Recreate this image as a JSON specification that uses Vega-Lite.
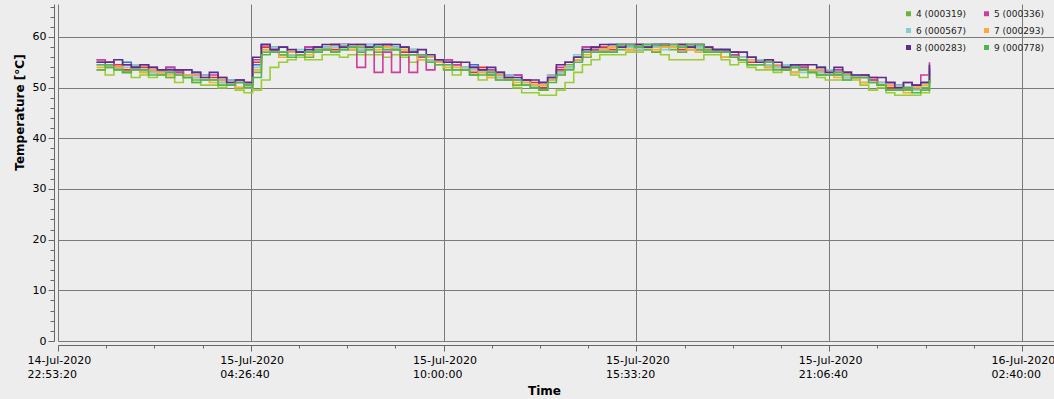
{
  "$schema": "https://vega.github.io/schema/vega-lite/v6.json",
  "autosize": {"type": "none"},
  "padding": {"left": 58, "top": 4, "right": 0, "bottom": 58},
  "width": 996,
  "height": 337,
  "background": "#ededed",
  "config": {"font": "DejaVu Sans", "view": {"stroke": null}},
  "data": {"values": [
    {"t": "2020-07-15T00:00:00Z", "s1": 55.0, "s2": 55.5, "s3": 53.5, "s4": 53.5, "s5": 55.5, "s6": 54.5, "s7": 54.0, "s8": 55.0, "s9": 54.5},
    {"t": "2020-07-15T00:15:00Z", "s1": 55.0, "s2": 54.5, "s3": 52.5, "s4": 54.5, "s5": 55.0, "s6": 54.0, "s7": 54.0, "s8": 55.0, "s9": 54.0},
    {"t": "2020-07-15T00:30:00Z", "s1": 54.5, "s2": 54.0, "s3": 53.5, "s4": 54.0, "s5": 54.0, "s6": 54.0, "s7": 54.0, "s8": 55.5, "s9": 53.5},
    {"t": "2020-07-15T00:45:00Z", "s1": 53.5, "s2": 55.0, "s3": 53.0, "s4": 53.0, "s5": 54.5, "s6": 54.0, "s7": 54.5, "s8": 54.5, "s9": 53.0},
    {"t": "2020-07-15T01:00:00Z", "s1": 54.5, "s2": 54.0, "s3": 52.0, "s4": 53.5, "s5": 54.0, "s6": 54.5, "s7": 53.5, "s8": 54.0, "s9": 53.5},
    {"t": "2020-07-15T01:15:00Z", "s1": 54.0, "s2": 53.5, "s3": 52.5, "s4": 53.0, "s5": 54.5, "s6": 53.5, "s7": 53.0, "s8": 54.5, "s9": 53.5},
    {"t": "2020-07-15T01:30:00Z", "s1": 53.0, "s2": 53.5, "s3": 52.0, "s4": 53.5, "s5": 54.0, "s6": 53.0, "s7": 53.5, "s8": 54.0, "s9": 52.5},
    {"t": "2020-07-15T01:45:00Z", "s1": 53.5, "s2": 53.5, "s3": 52.5, "s4": 53.0, "s5": 53.0, "s6": 53.5, "s7": 53.0, "s8": 53.5, "s9": 52.5},
    {"t": "2020-07-15T02:00:00Z", "s1": 53.0, "s2": 54.0, "s3": 52.0, "s4": 52.0, "s5": 54.0, "s6": 53.0, "s7": 52.5, "s8": 53.5, "s9": 53.0},
    {"t": "2020-07-15T02:15:00Z", "s1": 53.5, "s2": 53.0, "s3": 51.0, "s4": 53.0, "s5": 53.0, "s6": 52.5, "s7": 52.5, "s8": 53.5, "s9": 52.5},
    {"t": "2020-07-15T02:30:00Z", "s1": 52.5, "s2": 52.5, "s3": 52.0, "s4": 52.0, "s5": 52.5, "s6": 52.5, "s7": 52.5, "s8": 53.5, "s9": 52.0},
    {"t": "2020-07-15T02:45:00Z", "s1": 52.0, "s2": 53.0, "s3": 51.0, "s4": 51.5, "s5": 52.5, "s6": 52.0, "s7": 52.5, "s8": 53.0, "s9": 51.0},
    {"t": "2020-07-15T03:00:00Z", "s1": 52.5, "s2": 52.5, "s3": 50.5, "s4": 51.5, "s5": 52.5, "s6": 52.5, "s7": 52.0, "s8": 52.0, "s9": 51.5},
    {"t": "2020-07-15T03:15:00Z", "s1": 52.0, "s2": 51.5, "s3": 50.5, "s4": 51.5, "s5": 52.5, "s6": 51.5, "s7": 51.0, "s8": 53.0, "s9": 51.5},
    {"t": "2020-07-15T03:30:00Z", "s1": 51.0, "s2": 51.5, "s3": 50.0, "s4": 51.5, "s5": 52.0, "s6": 51.0, "s7": 51.5, "s8": 52.0, "s9": 50.5},
    {"t": "2020-07-15T03:45:00Z", "s1": 51.5, "s2": 51.5, "s3": 50.5, "s4": 50.5, "s5": 51.0, "s6": 51.5, "s7": 51.0, "s8": 51.0, "s9": 50.5},
    {"t": "2020-07-15T04:00:00Z", "s1": 51.0, "s2": 51.5, "s3": 49.5, "s4": 50.0, "s5": 51.5, "s6": 51.0, "s7": 50.0, "s8": 51.5, "s9": 51.0},
    {"t": "2020-07-15T04:15:00Z", "s1": 51.0, "s2": 50.5, "s3": 49.0, "s4": 50.5, "s5": 51.0, "s6": 50.0, "s7": 50.0, "s8": 51.0, "s9": 50.0},
    {"t": "2020-07-15T04:30:00Z", "s1": 55.0, "s2": 54.5, "s3": 49.5, "s4": 53.0, "s5": 55.5, "s6": 54.0, "s7": 53.5, "s8": 56.0, "s9": 52.0},
    {"t": "2020-07-15T04:45:00Z", "s1": 58.0, "s2": 58.5, "s3": 51.5, "s4": 57.0, "s5": 58.5, "s6": 57.5, "s7": 57.5, "s8": 58.5, "s9": 56.5},
    {"t": "2020-07-15T05:00:00Z", "s1": 58.0, "s2": 57.5, "s3": 54.0, "s4": 57.0, "s5": 57.5, "s6": 58.0, "s7": 57.0, "s8": 57.5, "s9": 57.0},
    {"t": "2020-07-15T05:15:00Z", "s1": 57.0, "s2": 56.5, "s3": 55.0, "s4": 56.5, "s5": 58.0, "s6": 57.0, "s7": 56.0, "s8": 58.0, "s9": 57.0},
    {"t": "2020-07-15T05:30:00Z", "s1": 56.5, "s2": 57.0, "s3": 55.5, "s4": 57.0, "s5": 57.0, "s6": 56.5, "s7": 57.0, "s8": 57.5, "s9": 56.0},
    {"t": "2020-07-15T05:45:00Z", "s1": 57.0, "s2": 57.0, "s3": 56.0, "s4": 56.5, "s5": 56.5, "s6": 57.5, "s7": 56.5, "s8": 57.0, "s9": 56.5},
    {"t": "2020-07-15T06:00:00Z", "s1": 57.0, "s2": 58.0, "s3": 55.5, "s4": 56.0, "s5": 58.0, "s6": 57.0, "s7": 56.5, "s8": 57.5, "s9": 57.0},
    {"t": "2020-07-15T06:15:00Z", "s1": 58.0, "s2": 57.5, "s3": 55.5, "s4": 57.5, "s5": 58.0, "s6": 57.0, "s7": 57.0, "s8": 58.0, "s9": 57.0},
    {"t": "2020-07-15T06:30:00Z", "s1": 58.0, "s2": 57.5, "s3": 56.5, "s4": 57.5, "s5": 57.5, "s6": 58.0, "s7": 57.5, "s8": 58.5, "s9": 57.5},
    {"t": "2020-07-15T06:45:00Z", "s1": 57.5, "s2": 58.5, "s3": 56.5, "s4": 57.0, "s5": 58.5, "s6": 58.0, "s7": 58.5, "s8": 58.5, "s9": 57.0},
    {"t": "2020-07-15T07:00:00Z", "s1": 58.5, "s2": 58.5, "s3": 56.0, "s4": 57.5, "s5": 58.5, "s6": 58.5, "s7": 58.0, "s8": 58.0, "s9": 57.5},
    {"t": "2020-07-15T07:15:00Z", "s1": 58.0, "s2": 58.0, "s3": 56.5, "s4": 57.5, "s5": 58.5, "s6": 58.0, "s7": 57.5, "s8": 58.5, "s9": 58.0},
    {"t": "2020-07-15T07:30:00Z", "s1": 57.5, "s2": 58.5, "s3": 56.5, "s4": 58.0, "s5": 54.0, "s6": 57.5, "s7": 58.5, "s8": 58.5, "s9": 57.0},
    {"t": "2020-07-15T07:45:00Z", "s1": 58.0, "s2": 58.5, "s3": 56.5, "s4": 57.5, "s5": 58.0, "s6": 58.5, "s7": 58.0, "s8": 58.0, "s9": 57.5},
    {"t": "2020-07-15T08:00:00Z", "s1": 58.0, "s2": 58.5, "s3": 56.5, "s4": 57.0, "s5": 53.0, "s6": 58.0, "s7": 57.5, "s8": 58.5, "s9": 58.0},
    {"t": "2020-07-15T08:15:00Z", "s1": 58.5, "s2": 58.5, "s3": 56.0, "s4": 58.0, "s5": 57.0, "s6": 57.5, "s7": 58.0, "s8": 58.5, "s9": 57.5},
    {"t": "2020-07-15T08:30:00Z", "s1": 58.0, "s2": 57.5, "s3": 56.5, "s4": 57.5, "s5": 53.0, "s6": 58.0, "s7": 57.5, "s8": 58.5, "s9": 57.5},
    {"t": "2020-07-15T08:45:00Z", "s1": 57.0, "s2": 58.0, "s3": 56.0, "s4": 56.5, "s5": 56.5, "s6": 57.5, "s7": 57.5, "s8": 58.0, "s9": 56.5},
    {"t": "2020-07-15T09:00:00Z", "s1": 57.5, "s2": 57.0, "s3": 55.0, "s4": 56.5, "s5": 53.0, "s6": 57.5, "s7": 56.5, "s8": 57.0, "s9": 56.5},
    {"t": "2020-07-15T09:15:00Z", "s1": 56.5, "s2": 56.0, "s3": 55.5, "s4": 56.0, "s5": 56.0, "s6": 56.5, "s7": 55.5, "s8": 57.5, "s9": 56.5},
    {"t": "2020-07-15T09:30:00Z", "s1": 55.5, "s2": 56.0, "s3": 55.0, "s4": 56.0, "s5": 53.5, "s6": 55.5, "s7": 56.0, "s8": 56.5, "s9": 55.0},
    {"t": "2020-07-15T09:45:00Z", "s1": 55.5, "s2": 55.5, "s3": 54.5, "s4": 55.0, "s5": 55.0, "s6": 55.5, "s7": 55.0, "s8": 55.5, "s9": 54.5},
    {"t": "2020-07-15T10:00:00Z", "s1": 55.0, "s2": 55.5, "s3": 53.5, "s4": 53.5, "s5": 55.5, "s6": 54.5, "s7": 54.0, "s8": 55.0, "s9": 54.5},
    {"t": "2020-07-15T10:15:00Z", "s1": 55.0, "s2": 54.5, "s3": 52.5, "s4": 54.5, "s5": 54.5, "s6": 53.5, "s7": 54.0, "s8": 55.0, "s9": 53.5},
    {"t": "2020-07-15T10:30:00Z", "s1": 54.0, "s2": 53.5, "s3": 53.5, "s4": 53.5, "s5": 53.5, "s6": 54.0, "s7": 53.5, "s8": 55.0, "s9": 53.5},
    {"t": "2020-07-15T10:45:00Z", "s1": 53.0, "s2": 54.5, "s3": 52.5, "s4": 52.5, "s5": 54.0, "s6": 53.5, "s7": 54.0, "s8": 54.0, "s9": 52.5},
    {"t": "2020-07-15T11:00:00Z", "s1": 54.0, "s2": 53.5, "s3": 51.5, "s4": 53.0, "s5": 53.5, "s6": 53.5, "s7": 53.0, "s8": 53.5, "s9": 52.5},
    {"t": "2020-07-15T11:15:00Z", "s1": 53.0, "s2": 52.5, "s3": 52.0, "s4": 52.5, "s5": 53.5, "s6": 53.0, "s7": 52.0, "s8": 54.0, "s9": 53.0},
    {"t": "2020-07-15T11:30:00Z", "s1": 52.0, "s2": 52.5, "s3": 51.5, "s4": 52.5, "s5": 53.0, "s6": 52.0, "s7": 52.5, "s8": 53.0, "s9": 51.5},
    {"t": "2020-07-15T11:45:00Z", "s1": 52.0, "s2": 52.5, "s3": 51.5, "s4": 51.5, "s5": 52.0, "s6": 52.5, "s7": 52.0, "s8": 52.0, "s9": 51.5},
    {"t": "2020-07-15T12:00:00Z", "s1": 51.5, "s2": 52.5, "s3": 50.0, "s4": 50.5, "s5": 52.5, "s6": 51.5, "s7": 51.0, "s8": 52.0, "s9": 51.5},
    {"t": "2020-07-15T12:15:00Z", "s1": 51.5, "s2": 51.5, "s3": 49.0, "s4": 51.0, "s5": 51.5, "s6": 50.5, "s7": 51.0, "s8": 51.5, "s9": 50.5},
    {"t": "2020-07-15T12:30:00Z", "s1": 51.0, "s2": 50.5, "s3": 49.0, "s4": 50.0, "s5": 50.5, "s6": 50.5, "s7": 50.5, "s8": 51.5, "s9": 50.0},
    {"t": "2020-07-15T12:45:00Z", "s1": 50.0, "s2": 51.0, "s3": 48.5, "s4": 49.5, "s5": 51.0, "s6": 50.5, "s7": 50.5, "s8": 51.0, "s9": 49.5},
    {"t": "2020-07-15T13:00:00Z", "s1": 52.5, "s2": 52.0, "s3": 48.5, "s4": 51.5, "s5": 52.0, "s6": 52.5, "s7": 51.5, "s8": 52.0, "s9": 51.0},
    {"t": "2020-07-15T13:15:00Z", "s1": 53.5, "s2": 53.0, "s3": 49.5, "s4": 53.0, "s5": 54.0, "s6": 53.0, "s7": 52.5, "s8": 54.5, "s9": 52.5},
    {"t": "2020-07-15T13:30:00Z", "s1": 54.0, "s2": 55.0, "s3": 51.0, "s4": 54.5, "s5": 55.0, "s6": 54.0, "s7": 55.0, "s8": 55.0, "s9": 53.5},
    {"t": "2020-07-15T13:45:00Z", "s1": 56.0, "s2": 56.0, "s3": 53.0, "s4": 55.5, "s5": 55.5, "s6": 56.5, "s7": 55.5, "s8": 56.0, "s9": 55.0},
    {"t": "2020-07-15T14:00:00Z", "s1": 57.0, "s2": 58.0, "s3": 54.5, "s4": 56.0, "s5": 58.0, "s6": 57.0, "s7": 56.5, "s8": 57.5, "s9": 57.0},
    {"t": "2020-07-15T14:15:00Z", "s1": 58.0, "s2": 57.5, "s3": 55.5, "s4": 57.5, "s5": 57.5, "s6": 57.0, "s7": 57.0, "s8": 58.0, "s9": 57.0},
    {"t": "2020-07-15T14:30:00Z", "s1": 58.0, "s2": 57.5, "s3": 56.5, "s4": 57.0, "s5": 57.5, "s6": 57.5, "s7": 57.5, "s8": 58.5, "s9": 57.0},
    {"t": "2020-07-15T14:45:00Z", "s1": 57.5, "s2": 58.5, "s3": 56.5, "s4": 57.0, "s5": 58.0, "s6": 58.0, "s7": 58.0, "s8": 58.5, "s9": 57.0},
    {"t": "2020-07-15T15:00:00Z", "s1": 58.5, "s2": 58.5, "s3": 56.5, "s4": 57.5, "s5": 58.5, "s6": 58.5, "s7": 58.0, "s8": 58.0, "s9": 58.5},
    {"t": "2020-07-15T15:15:00Z", "s1": 58.0, "s2": 58.0, "s3": 57.0, "s4": 57.5, "s5": 58.5, "s6": 58.0, "s7": 57.5, "s8": 58.5, "s9": 58.5},
    {"t": "2020-07-15T15:30:00Z", "s1": 57.5, "s2": 58.5, "s3": 57.0, "s4": 58.0, "s5": 58.5, "s6": 57.5, "s7": 58.5, "s8": 58.5, "s9": 58.0},
    {"t": "2020-07-15T15:45:00Z", "s1": 58.0, "s2": 58.5, "s3": 57.5, "s4": 57.5, "s5": 58.0, "s6": 58.5, "s7": 58.0, "s8": 58.0, "s9": 58.5},
    {"t": "2020-07-15T16:00:00Z", "s1": 58.0, "s2": 58.5, "s3": 57.0, "s4": 57.0, "s5": 58.5, "s6": 58.0, "s7": 57.5, "s8": 58.5, "s9": 58.5},
    {"t": "2020-07-15T16:15:00Z", "s1": 58.5, "s2": 58.5, "s3": 56.5, "s4": 58.0, "s5": 58.5, "s6": 57.5, "s7": 58.0, "s8": 58.5, "s9": 58.5},
    {"t": "2020-07-15T16:30:00Z", "s1": 58.0, "s2": 58.0, "s3": 55.5, "s4": 57.5, "s5": 58.0, "s6": 58.0, "s7": 58.0, "s8": 58.5, "s9": 58.5},
    {"t": "2020-07-15T16:45:00Z", "s1": 57.5, "s2": 58.5, "s3": 55.5, "s4": 57.0, "s5": 58.5, "s6": 58.0, "s7": 58.5, "s8": 58.5, "s9": 58.0},
    {"t": "2020-07-15T17:00:00Z", "s1": 58.5, "s2": 58.0, "s3": 55.5, "s4": 57.5, "s5": 58.5, "s6": 58.5, "s7": 57.5, "s8": 58.0, "s9": 58.5},
    {"t": "2020-07-15T17:15:00Z", "s1": 58.0, "s2": 57.5, "s3": 55.5, "s4": 57.5, "s5": 58.5, "s6": 58.0, "s7": 57.0, "s8": 58.5, "s9": 58.5},
    {"t": "2020-07-15T17:30:00Z", "s1": 57.5, "s2": 58.0, "s3": 56.5, "s4": 57.5, "s5": 58.0, "s6": 57.0, "s7": 58.0, "s8": 58.0, "s9": 57.0},
    {"t": "2020-07-15T17:45:00Z", "s1": 57.5, "s2": 57.5, "s3": 56.5, "s4": 57.0, "s5": 57.0, "s6": 57.5, "s7": 57.0, "s8": 57.5, "s9": 57.0},
    {"t": "2020-07-15T18:00:00Z", "s1": 57.0, "s2": 57.5, "s3": 55.5, "s4": 56.0, "s5": 57.5, "s6": 57.0, "s7": 56.0, "s8": 57.5, "s9": 57.0},
    {"t": "2020-07-15T18:15:00Z", "s1": 57.0, "s2": 56.5, "s3": 54.5, "s4": 56.5, "s5": 56.5, "s6": 56.0, "s7": 56.0, "s8": 57.0, "s9": 56.0},
    {"t": "2020-07-15T18:30:00Z", "s1": 56.0, "s2": 55.5, "s3": 55.0, "s4": 55.5, "s5": 55.5, "s6": 56.0, "s7": 55.5, "s8": 57.0, "s9": 55.5},
    {"t": "2020-07-15T18:45:00Z", "s1": 55.0, "s2": 56.0, "s3": 54.0, "s4": 54.5, "s5": 56.0, "s6": 55.5, "s7": 55.5, "s8": 56.0, "s9": 54.5},
    {"t": "2020-07-15T19:00:00Z", "s1": 55.5, "s2": 55.5, "s3": 53.5, "s4": 54.5, "s5": 55.5, "s6": 55.5, "s7": 55.0, "s8": 55.0, "s9": 54.5},
    {"t": "2020-07-15T19:15:00Z", "s1": 55.0, "s2": 54.5, "s3": 53.5, "s4": 54.0, "s5": 55.5, "s6": 54.5, "s7": 54.0, "s8": 55.5, "s9": 55.0},
    {"t": "2020-07-15T19:30:00Z", "s1": 54.0, "s2": 54.5, "s3": 53.0, "s4": 54.5, "s5": 54.5, "s6": 54.0, "s7": 54.5, "s8": 55.0, "s9": 53.5},
    {"t": "2020-07-15T19:45:00Z", "s1": 54.0, "s2": 54.5, "s3": 53.5, "s4": 53.5, "s5": 54.0, "s6": 54.5, "s7": 54.0, "s8": 54.0, "s9": 53.5},
    {"t": "2020-07-15T20:00:00Z", "s1": 54.0, "s2": 54.5, "s3": 52.5, "s4": 53.0, "s5": 54.5, "s6": 54.0, "s7": 53.0, "s8": 54.5, "s9": 54.0},
    {"t": "2020-07-15T20:15:00Z", "s1": 54.5, "s2": 54.0, "s3": 52.0, "s4": 54.0, "s5": 54.0, "s6": 53.0, "s7": 53.5, "s8": 54.5, "s9": 53.5},
    {"t": "2020-07-15T20:30:00Z", "s1": 53.5, "s2": 53.5, "s3": 53.0, "s4": 53.0, "s5": 53.5, "s6": 53.5, "s7": 53.5, "s8": 54.5, "s9": 53.0},
    {"t": "2020-07-15T20:45:00Z", "s1": 53.0, "s2": 54.0, "s3": 52.0, "s4": 52.5, "s5": 53.5, "s6": 53.0, "s7": 53.5, "s8": 54.0, "s9": 52.5},
    {"t": "2020-07-15T21:00:00Z", "s1": 53.5, "s2": 53.5, "s3": 51.5, "s4": 52.5, "s5": 53.5, "s6": 53.5, "s7": 53.0, "s8": 53.0, "s9": 52.5},
    {"t": "2020-07-15T21:15:00Z", "s1": 53.0, "s2": 52.5, "s3": 51.5, "s4": 52.5, "s5": 53.5, "s6": 53.0, "s7": 52.0, "s8": 54.0, "s9": 53.0},
    {"t": "2020-07-15T21:30:00Z", "s1": 52.0, "s2": 53.0, "s3": 51.5, "s4": 52.5, "s5": 53.0, "s6": 52.0, "s7": 53.0, "s8": 53.0, "s9": 51.5},
    {"t": "2020-07-15T21:45:00Z", "s1": 52.5, "s2": 52.5, "s3": 51.5, "s4": 52.0, "s5": 52.0, "s6": 52.5, "s7": 52.0, "s8": 52.5, "s9": 52.0},
    {"t": "2020-07-15T22:00:00Z", "s1": 52.0, "s2": 52.5, "s3": 50.5, "s4": 51.0, "s5": 52.5, "s6": 52.0, "s7": 51.0, "s8": 52.5, "s9": 52.0},
    {"t": "2020-07-15T22:15:00Z", "s1": 52.0, "s2": 51.5, "s3": 49.5, "s4": 51.5, "s5": 51.5, "s6": 51.0, "s7": 51.0, "s8": 52.0, "s9": 51.0},
    {"t": "2020-07-15T22:30:00Z", "s1": 51.0, "s2": 50.5, "s3": 50.0, "s4": 50.5, "s5": 50.5, "s6": 51.0, "s7": 50.5, "s8": 52.0, "s9": 50.5},
    {"t": "2020-07-15T22:45:00Z", "s1": 50.0, "s2": 51.0, "s3": 49.0, "s4": 49.5, "s5": 51.0, "s6": 50.5, "s7": 50.5, "s8": 51.0, "s9": 49.5},
    {"t": "2020-07-15T23:00:00Z", "s1": 50.5, "s2": 50.5, "s3": 48.5, "s4": 49.5, "s5": 50.5, "s6": 50.5, "s7": 50.0, "s8": 50.0, "s9": 49.5},
    {"t": "2020-07-15T23:15:00Z", "s1": 50.0, "s2": 49.5, "s3": 48.5, "s4": 49.5, "s5": 51.0, "s6": 50.0, "s7": 49.0, "s8": 51.0, "s9": 50.0},
    {"t": "2020-07-15T23:30:00Z", "s1": 49.5, "s2": 50.0, "s3": 48.5, "s4": 50.0, "s5": 50.5, "s6": 49.5, "s7": 50.0, "s8": 50.5, "s9": 49.0},
    {"t": "2020-07-15T23:45:00Z", "s1": 51.0, "s2": 51.0, "s3": 49.0, "s4": 50.0, "s5": 52.5, "s6": 51.0, "s7": 50.5, "s8": 51.0, "s9": 49.5},
    {"t": "2020-07-16T00:00:00Z", "s1": 54.0, "s2": 53.5, "s3": 50.0, "s4": 53.0, "s5": 55.0, "s6": 54.0, "s7": 52.5, "s8": 54.5, "s9": 51.5}
  ]},
  "transform": [
    {"fold": ["s1", "s2", "s3", "s4", "s5", "s6", "s7", "s8", "s9"], "as": ["key", "temp"]},
    {"lookup": "key", "from": {"data": {"values": [
      {"key": "s1", "sensor": "1"}, {"key": "s2", "sensor": "2"}, {"key": "s3", "sensor": "3"},
      {"key": "s4", "sensor": "4 (000319)"}, {"key": "s5", "sensor": "5 (000336)"}, {"key": "s6", "sensor": "6 (000567)"},
      {"key": "s7", "sensor": "7 (000293)"}, {"key": "s8", "sensor": "8 (000283)"}, {"key": "s9", "sensor": "9 (000778)"}
    ]}, "key": "key", "fields": ["sensor"]}}
  ],
  "mark": {"type": "line", "interpolate": "step-after", "strokeWidth": 1.6},
  "encoding": {
    "x": {
      "field": "t", "type": "temporal",
      "scale": {"type": "utc", "domain": [1594767200000, 1594870520000], "nice": false},
      "axis": {
        "title": "Time", "titleFontSize": 12, "titleFontWeight": "bold", "titleColor": "#000",
        "titleX": 486, "titleY": 40, "titleBaseline": "top",
        "values": [1594767200000, 1594772200000, 1594777200000, 1594782200000, 1594787200000, 1594792200000, 1594797200000, 1594802200000, 1594807200000, 1594812200000, 1594817200000, 1594822200000, 1594827200000, 1594832200000, 1594837200000, 1594842200000, 1594847200000, 1594852200000, 1594857200000, 1594862200000, 1594867200000],
        "labelExpr": "((datum.value - 1594767200000) % 20000000) === 0 ? [utcFormat(datum.value, '%d-%b-%Y'), utcFormat(datum.value, '%H:%M:%S')] : ''",
        "labelAlign": "left", "labelOffset": -31, "labelFontSize": 11, "labelColor": "#000",
        "labelLineHeight": 14, "labelPadding": 3, "labelOverlap": false, "labelFlush": false,
        "offset": 4, "domainColor": "#666", "tickColor": "#666",
        "tickSize": {"condition": {"test": "((datum.value - 1594767200000) % 20000000) === 0", "value": 6}, "value": 3},
        "grid": true, "gridColor": "#7a7a7a", "gridWidth": 1,
        "gridOpacity": {"condition": {"test": "((datum.value - 1594767200000) % 20000000) === 0", "value": 1}, "value": 0}
      }
    },
    "y": {
      "field": "temp", "type": "quantitative",
      "scale": {"domain": [0, 66.5], "nice": false, "zero": false},
      "axis": {
        "title": "Temperature [°C]", "titleFontSize": 12, "titleFontWeight": "bold", "titleColor": "#000",
        "titleX": -35, "titleY": 108, "titleBaseline": "middle", "titleAlign": "center",
        "values": [0, 2, 4, 6, 8, 10, 12, 14, 16, 18, 20, 22, 24, 26, 28, 30, 32, 34, 36, 38, 40, 42, 44, 46, 48, 50, 52, 54, 56, 58, 60, 62, 64, 66],
        "labelExpr": "datum.value % 10 === 0 ? datum.label : ''",
        "labelFontSize": 11, "labelColor": "#000", "labelPadding": 2, "labelOverlap": false, "labelFlush": false,
        "offset": 4, "domainColor": "#666", "tickColor": "#666",
        "tickSize": {"condition": {"test": "datum.value % 10 === 0", "value": 6}, "value": 4},
        "grid": true, "gridColor": "#7a7a7a", "gridWidth": 1,
        "gridOpacity": {"condition": {"test": "datum.value % 10 === 0", "value": 1}, "value": 0}
      }
    },
    "color": {
      "field": "sensor", "type": "nominal",
      "scale": {
        "domain": ["1", "2", "3", "4 (000319)", "5 (000336)", "6 (000567)", "7 (000293)", "8 (000283)", "9 (000778)"],
        "range": ["#e8302c", "#3a6fd8", "#9acd32", "#6cb33e", "#d03c9c", "#84d0d0", "#fbaa34", "#5a2d91", "#4cb84c"]
      },
      "legend": {
        "title": null, "orient": "none", "legendX": 846, "legendY": 5, "columns": 2,
        "values": ["4 (000319)", "6 (000567)", "8 (000283)", "5 (000336)", "7 (000293)", "9 (000778)"],
        "symbolType": "square", "symbolSize": 25, "symbolStrokeWidth": 0,
        "labelFontSize": 9, "labelColor": "#222", "labelOffset": 3,
        "columnPadding": 16, "rowPadding": 7,
        "encode": {"symbols": {"update": {"fill": {"scale": "color", "field": "value"}, "fillOpacity": {"value": 1}}}}
      }
    }
  }
}
